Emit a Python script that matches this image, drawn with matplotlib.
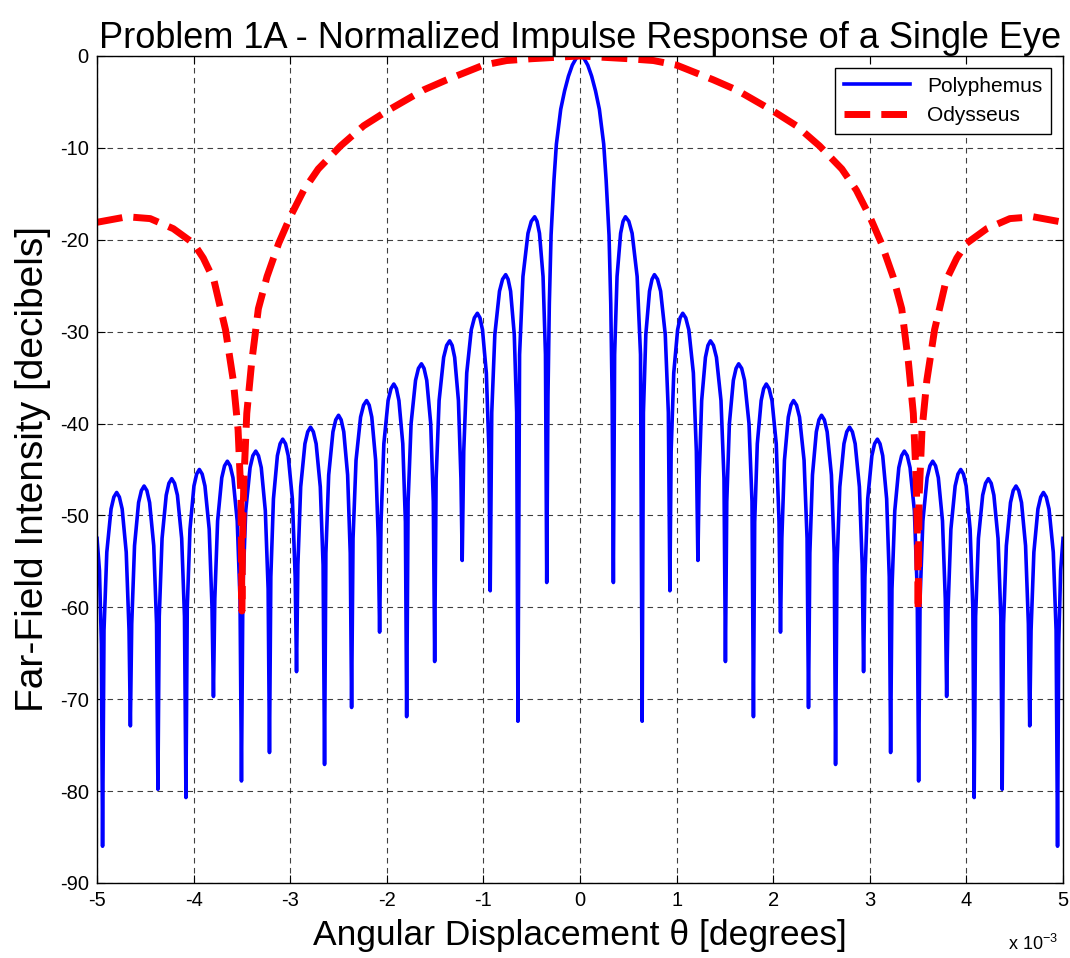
import numpy as np
import matplotlib
matplotlib.use('Agg')
import matplotlib.pyplot as plt
import matplotlib as mpl

mpl.rcParams['font.family'] = ['Liberation Sans', 'DejaVu Sans']
mpl.rcParams['mathtext.fontset'] = 'custom'
mpl.rcParams['mathtext.rm'] = 'Liberation Sans'
mpl.rcParams['axes.unicode_minus'] = False

# Polyphemus (right half, x in 1e-3 degrees, pattern is symmetric about 0)
poly_x = [0, 0.04, 0.08, 0.12, 0.16, 0.20, 0.245, 0.27, 0.30, 0.318, 0.332, 0.345,
          0.358, 0.383, 0.420, 0.445, 0.470, 0.505, 0.539, 0.591, 0.626, 0.643,
          0.656, 0.681, 0.719, 0.745, 0.770, 0.802, 0.834, 0.882, 0.914, 0.930,
          0.943, 0.970, 1.010, 1.036, 1.063, 1.094, 1.126, 1.173, 1.204, 1.220,
          1.233, 1.259, 1.298, 1.324, 1.350, 1.381, 1.412, 1.459, 1.490, 1.505,
          1.519, 1.546, 1.587, 1.615, 1.642, 1.673, 1.703, 1.749, 1.780, 1.795,
          1.808, 1.835, 1.875, 1.901, 1.928, 1.957, 1.987, 2.031, 2.060, 2.075,
          2.089, 2.116, 2.156, 2.183, 2.210, 2.241, 2.272, 2.319, 2.350, 2.365,
          2.379, 2.406, 2.446, 2.473, 2.500, 2.529, 2.558, 2.602, 2.631, 2.645,
          2.660, 2.689, 2.732, 2.761, 2.790, 2.819, 2.848, 2.892, 2.921, 2.935,
          2.949, 2.978, 3.021, 3.049, 3.078, 3.105, 3.133, 3.174, 3.201, 3.215,
          3.229, 3.258, 3.300, 3.329, 3.357, 3.387, 3.416, 3.461, 3.490, 3.505,
          3.520, 3.549, 3.593, 3.622, 3.651, 3.680, 3.709, 3.752, 3.781, 3.795,
          3.810, 3.839, 3.883, 3.912, 3.941, 3.969, 3.997, 4.038, 4.066, 4.080,
          4.095, 4.124, 4.168, 4.198, 4.227, 4.256, 4.284, 4.327, 4.356, 4.370,
          4.384, 4.413, 4.456, 4.484, 4.513, 4.541, 4.570, 4.612, 4.641, 4.655,
          4.669, 4.698, 4.740, 4.769, 4.797, 4.826, 4.855, 4.899, 4.928, 4.943,
          4.955, 4.975, 5.0]
poly_db = [0, -0.25, -1.0, -2.2, -3.8, -5.8, -9.6, -13.5, -19.5, -27.0, -37.0, -57.3,
           -32.5, -24.0, -19.3, -18.0, -17.5, -18.0, -19.3, -24.0, -32.5, -72.4,
           -38.8, -30.3, -25.6, -24.3, -23.8, -24.3, -25.6, -30.3, -38.8, -58.2,
           -43.0, -34.5, -29.8, -28.5, -28.0, -28.5, -29.8, -34.5, -43.0, -54.9,
           -46.0, -37.5, -32.8, -31.5, -31.0, -31.5, -32.8, -37.5, -46.0, -65.9,
           -48.5, -40.0, -35.3, -34.0, -33.5, -34.0, -35.3, -40.0, -48.5, -71.9,
           -50.7, -42.2, -37.5, -36.2, -35.7, -36.2, -37.5, -42.2, -50.7, -62.7,
           -52.5, -44.0, -39.3, -38.0, -37.5, -38.0, -39.3, -44.0, -52.5, -70.9,
           -54.1, -45.6, -40.9, -39.6, -39.1, -39.6, -40.9, -45.6, -54.1, -77.1,
           -55.4, -46.9, -42.2, -40.9, -40.4, -40.9, -42.2, -46.9, -55.4, -67.0,
           -56.7, -48.2, -43.5, -42.2, -41.7, -42.2, -43.5, -48.2, -56.7, -75.8,
           -58.0, -49.5, -44.8, -43.5, -43.0, -43.5, -44.8, -49.5, -58.0, -78.9,
           -59.1, -50.6, -45.9, -44.6, -44.1, -44.6, -45.9, -50.6, -59.1, -69.7,
           -60.0, -51.5, -46.8, -45.5, -45.0, -45.5, -46.8, -51.5, -60.0, -80.7,
           -61.0, -52.5, -47.8, -46.5, -46.0, -46.5, -47.8, -52.5, -61.0, -79.8,
           -61.8, -53.3, -48.6, -47.3, -46.8, -47.3, -48.6, -53.3, -61.8, -72.9,
           -62.5, -54.0, -49.3, -48.0, -47.5, -48.0, -49.3, -54.0, -62.5, -86.0,
           -64.0, -56.0, -52.5]

# Odysseus (right half)
odys_x = [0, 0.5, 0.76, 1.0, 1.38, 1.62, 2.0, 2.24, 2.48, 2.71, 2.86, 3.0, 3.12, 3.24,
          3.33, 3.40, 3.45, 3.48, 3.495, 3.50, 3.51, 3.54, 3.59, 3.67, 3.79, 3.90,
          4.0, 4.21, 4.45, 4.69, 5.0]
odys_db = [0, -0.3, -0.5, -1.0, -2.6, -3.7, -6.0, -7.6, -9.8, -12.3, -14.6, -17.5, -20.4, -24.0,
           -27.5, -33.4, -38.9, -46.2, -53.4, -60.4, -48.0, -40.7, -35.3, -29.8, -24.4, -22.0,
           -20.4, -18.8, -17.7, -17.5, -18.1]


def mirror(x, y):
    # the reference pattern is symmetric: left half = right half flipped
    x = np.asarray(x, dtype=float)
    y = np.asarray(y, dtype=float)
    return np.concatenate([-x[::-1], x[1:]]), np.concatenate([y[::-1], y[1:]])


px, py = mirror(poly_x, poly_db)
ox, oy = mirror(odys_x, odys_db)

fig = plt.figure(figsize=(10.7, 9.58), dpi=100)
ax = fig.add_axes([0.0907, 0.0783, 0.9028, 0.8633])

ax.plot(px, py, color='#0000ff', linewidth=2.6, label='Polyphemus')
ax.plot(ox, oy, color='#ff0000', linewidth=5, linestyle='--', label='Odysseus')

ax.set_xlim(-5, 5)
ax.set_ylim(-90, 0)
ax.set_xticks(range(-5, 6))
ax.set_yticks(range(-90, 1, 10))
ax.grid(True, color='black', linestyle=(0, (5, 4)), linewidth=0.8, alpha=0.75)
ax.tick_params(direction='in', top=True, right=True, labelsize=14.5, length=6, pad=6)
for s in ax.spines.values():
    s.set_linewidth(1.0)

ax.set_title('Problem 1A - Normalized Impulse Response of a Single Eye', fontsize=26, pad=6)
ax.set_ylabel('Far-Field Intensity [decibels]', fontsize=28, labelpad=6)
ax.set_xlabel('Angular Displacement θ [degrees]', fontsize=25.5, labelpad=6)
fig.text(0.942, 0.008, r'x 10$^{\mathregular{-3}}$', fontsize=13)

leg = ax.legend(loc='upper right', fontsize=15, fancybox=False, framealpha=1,
                edgecolor='black', borderaxespad=0.6, handlelength=3.2)
leg.get_frame().set_linewidth(1.0)

plt.savefig('out.png', dpi=100)
